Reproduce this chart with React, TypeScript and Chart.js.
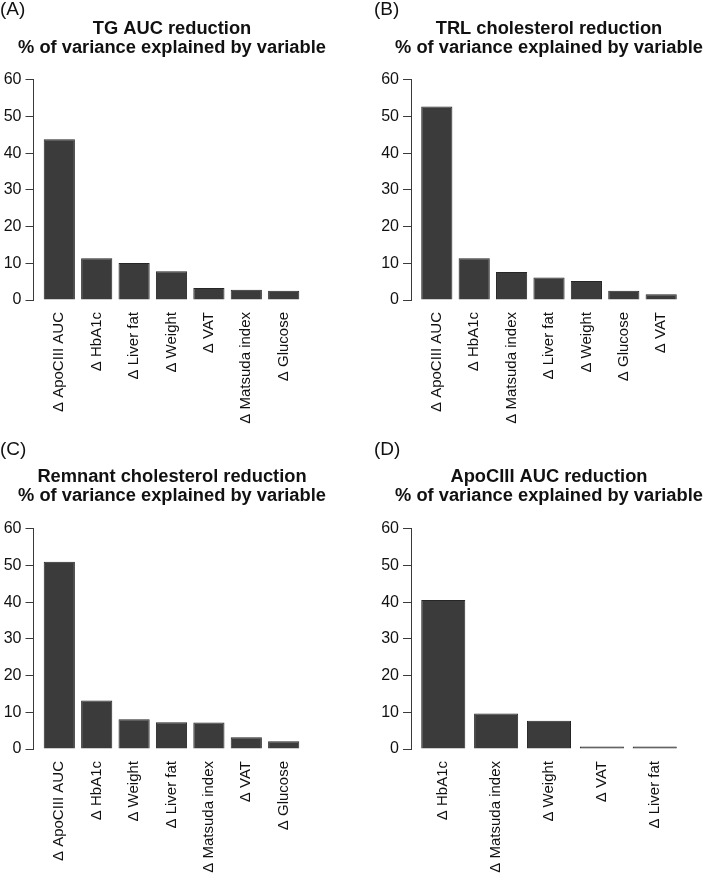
import React, { useEffect, useRef } from "react";
import { Chart, registerables } from "chart.js";

Chart.register(...registerables);

const FONT = "'Liberation Sans', Arial, Helvetica, sans-serif";
const TEXT = "#111111";
const AXIS = "#3a3a3a";
const BAR_FILL = "#3b3b3b";
const BAR_EDGE = "#262626";

// ---------- data ----------
const subtitleLine = "% of variance explained by variable";

const titleA = "TG AUC reduction";
const labelsA = ["Δ ApoCIII AUC", "Δ HbA1c", "Δ Liver fat", "Δ Weight", "Δ VAT", "Δ Matsuda index", "Δ Glucose"];
const valuesA = [43.8, 11.4, 10.1, 7.8, 3.3, 2.8, 2.5];

const titleB = "TRL cholesterol reduction";
const labelsB = ["Δ ApoCIII AUC", "Δ HbA1c", "Δ Matsuda index", "Δ Liver fat", "Δ Weight", "Δ Glucose", "Δ VAT"];
const valuesB = [52.7, 11.4, 7.6, 6.1, 5.2, 2.5, 1.6];

const titleC = "Remnant cholesterol reduction";
const labelsC = ["Δ ApoCIII AUC", "Δ HbA1c", "Δ Weight", "Δ Liver fat", "Δ Matsuda index", "Δ VAT", "Δ Glucose"];
const valuesC = [51.0, 13.2, 8.1, 7.3, 7.2, 3.2, 2.1];

const titleD = "ApoCIII AUC reduction";
const labelsD = ["Δ HbA1c", "Δ Matsuda index", "Δ Weight", "Δ VAT", "Δ Liver fat"];
const valuesD = [40.6, 9.7, 7.7, 0.7, 0.7];

const yMin = 0;
const yMax = 60;
const yStep = 10;

// ---------- layout (positions / sizes only) ----------
type Panel = {
  letter: string;
  title: string;
  labels: string[];
  values: number[];
  left: number;
  top: number;
  width: number;
  height: number;
  yAxisWidth: number;
  letterPadTop: number;
  titlePadTop: number;
  titlePadBottom: number;
  xAxisHeight: number;
};

const PLOT_REGION_PX = 276; // width of the R-style plot region

const panels: Panel[] = [
  { letter: "(A)", title: titleA, labels: labelsA, values: valuesA, left: 0, top: 0, width: 344, height: 437, yAxisWidth: 33.5, letterPadTop: 0, titlePadTop: 0.5, titlePadBottom: 22.5, xAxisHeight: 137 },
  { letter: "(B)", title: titleB, labels: labelsB, values: valuesB, left: 374, top: 0, width: 350, height: 437, yAxisWidth: 37, letterPadTop: 0, titlePadTop: 0.5, titlePadBottom: 22.5, xAxisHeight: 137 },
  { letter: "(C)", title: titleC, labels: labelsC, values: valuesC, left: 0, top: 437, width: 344, height: 440, yAxisWidth: 33.5, letterPadTop: 3, titlePadTop: 9, titlePadBottom: 23, xAxisHeight: 128 },
  { letter: "(D)", title: titleD, labels: labelsD, values: valuesD, left: 374, top: 437, width: 350, height: 440, yAxisWidth: 37, letterPadTop: 3, titlePadTop: 9, titlePadBottom: 23, xAxisHeight: 128 },
];

function BarPanel({ p }: { p: Panel }) {
  const ref = useRef<HTMLCanvasElement | null>(null);

  useEffect(() => {
    if (!ref.current) return;
    const n = p.labels.length;
    // R barplot geometry: bar width 1, space 0.2
    const centers = p.labels.map((_, i) => 1.2 * (i + 1) - 0.5);
    const span = 1.2 * n - 0.2;
    const xmin = 0.2 - 0.04 * span;
    const pxPerUnit = PLOT_REGION_PX / (1.08 * span);
    const chartW = p.width - p.yAxisWidth;
    const xmax = xmin + chartW / pxPerUnit;

    const chart = new Chart(ref.current, {
      type: "bar",
      data: {
        datasets: [
          {
            data: p.values.map((v, i) => ({ x: centers[i], y: v })),
            backgroundColor: BAR_FILL,
            borderColor: BAR_EDGE,
            borderWidth: 1,
            barPercentage: 1 / 1.2,
            categoryPercentage: 1,
          },
        ],
      },
      options: {
        responsive: false,
        animation: false,
        devicePixelRatio: 1,
        layout: { padding: 0 },
        plugins: {
          legend: { display: false },
          tooltip: { enabled: false },
          title: {
            display: true,
            text: p.letter,
            align: "start",
            color: TEXT,
            font: { family: FONT, size: 19, weight: "normal", lineHeight: 1 },
            padding: { top: p.letterPadTop, bottom: 0 },
          },
          subtitle: {
            display: true,
            text: [p.title, subtitleLine],
            align: "center",
            color: TEXT,
            font: { family: FONT, size: 18.3, weight: "bold", lineHeight: 1.03 },
            padding: { top: p.titlePadTop, bottom: p.titlePadBottom },
          },
        },
        scales: {
          x: {
            type: "linear",
            min: xmin,
            max: xmax,
            bounds: "data",
            offset: false,
            afterBuildTicks: (axis: any) => {
              axis.ticks = centers.map((v) => ({ value: v }));
            },
            afterFit: (axis: any) => {
              axis.height = p.xAxisHeight;
            },
            grid: { display: false, drawTicks: false, offset: false },
            border: { display: false },
            ticks: {
              autoSkip: false,
              minRotation: 90,
              maxRotation: 90,
              padding: 12,
              color: TEXT,
              font: { family: FONT, size: 15 },
              callback: (_v: any, i: number) => p.labels[i],
            },
          },
          y: {
            type: "linear",
            min: yMin,
            max: yMax,
            afterFit: (axis: any) => {
              axis.width = p.yAxisWidth;
            },
            grid: {
              drawOnChartArea: false,
              drawTicks: true,
              tickLength: 8,
              color: AXIS,
              lineWidth: 1,
            },
            border: { display: true, color: AXIS, width: 1 },
            ticks: {
              stepSize: yStep,
              padding: 4,
              color: TEXT,
              font: { family: FONT, size: 16 },
            },
          },
        },
      } as any,
    });
    return () => chart.destroy();
  }, [p]);

  return (
    <canvas
      ref={ref}
      width={p.width}
      height={p.height}
      style={{ position: "absolute", left: p.left, top: p.top, width: p.width, height: p.height }}
    />
  );
}

export default function App() {
  return (
    <div
      style={{
        position: "absolute",
        left: 0,
        top: 0,
        width: 709,
        height: 877,
        overflow: "hidden",
        background: "#ffffff",
      }}
    >
      {panels.map((p) => (
        <BarPanel key={p.letter} p={p} />
      ))}
    </div>
  );
}
